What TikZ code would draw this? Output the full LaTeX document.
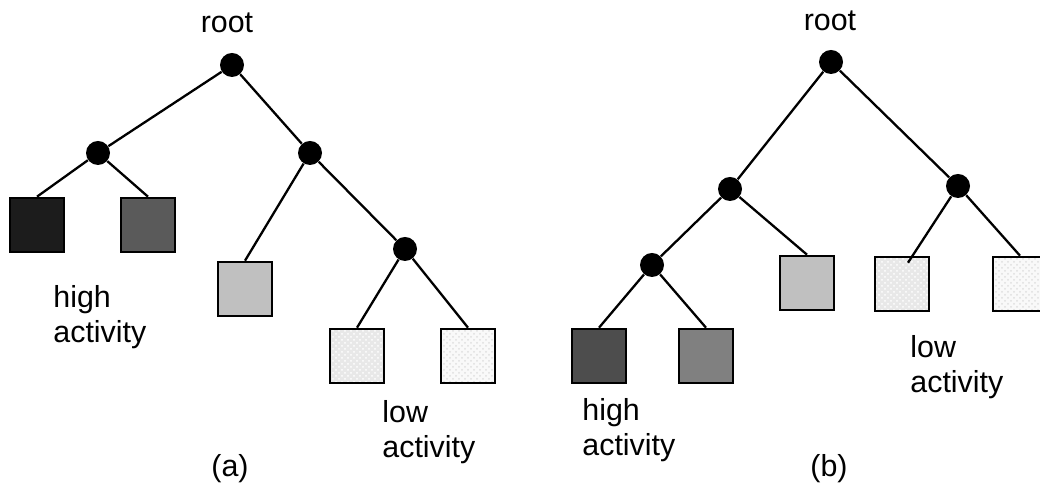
\documentclass[tikz,border=0pt]{standalone}
\usepackage{fontspec}
\setmainfont{Liberation Sans}
\usetikzlibrary{patterns}
\begin{document}
\begin{tikzpicture}[x=0.5pt,y=-0.5pt,
  every node/.style={font=\fontsize{15.2}{17.5}\selectfont},
  dot/.style={circle,fill=black,inner sep=0pt,minimum size=12pt},
  leaf/.style={draw=black,line width=1.3pt,inner sep=0pt,minimum size=27pt},
  leafsoft/.style={leaf,preaction={fill=gray!18},pattern=crosshatch dots,pattern color=white},
  leaffaint/.style={leaf,preaction={fill=gray!5},pattern=crosshatch dots,pattern color=gray!25},
  branch/.style={line width=1.15pt},
  caption/.style={align=left,anchor=base west,inner sep=0pt}]
\useasboundingbox (0,0) rectangle (1040,490);

% ---- tree (a) ----
\node[dot] (a0) at (232,65) {};
\node[dot] (a1) at (98,153) {};
\node[dot] (a2) at (310,153) {};
\node[dot] (a3) at (405,249) {};
\node[leaf,fill={rgb,255:red,28;green,28;blue,28}] (sa1) at (37,225) {};
\node[leaf,fill={rgb,255:red,90;green,90;blue,90}] (sa2) at (148,225) {};
\node[leaf,fill={rgb,255:red,192;green,192;blue,192}] (sa3) at (245,289) {};
\node[leafsoft] (sa4) at (357,356) {};
\node[leaffaint] (sa5) at (468,356) {};
\draw[branch] (a0) -- (a1);
\draw[branch] (a0) -- (a2);
\draw[branch] (a1) -- (sa1.north);
\draw[branch] (a1) -- (sa2.north);
\draw[branch] (a2) -- (sa3.north);
\draw[branch] (a2) -- (a3);
\draw[branch] (a3) -- (sa4.north);
\draw[branch] (a3) -- (sa5.north);
\node[anchor=base,inner sep=0pt] (ra) at (227,33) {root};
% the base anchor of a two-line caption sits on its second line
\node[caption] (ha) at (53,343) {high\\activity};
\node[caption] (la) at (382,458) {low\\activity};
\node[anchor=base,inner sep=0pt] (ca) at (230,477) {(a)};

% ---- tree (b) ----
\node[dot] (b0) at (831,62) {};
\node[dot] (b1) at (730,189) {};
\node[dot] (b2) at (958,186) {};
\node[dot] (b3) at (652,265) {};
\node[leaf,fill={rgb,255:red,77;green,77;blue,77}] (sb1) at (599,356) {};
\node[leaf,fill={rgb,255:red,128;green,128;blue,128}] (sb2) at (706,356) {};
\node[leaf,fill={rgb,255:red,192;green,192;blue,192}] (sb3) at (807,283) {};
\node[leafsoft] (sb4) at (902,284) {};
\node[leaffaint] (sb5) at (1020,284) {};
\draw[branch] (b0) -- (b1);
\draw[branch] (b0) -- (b2);
\draw[branch] (b1) -- (b3);
\draw[branch] (b1) -- (sb3.north);
\draw[branch] (b3) -- (sb1.north);
\draw[branch] (b3) -- (sb2.north);
\draw[branch] (b2) -- ([shift={(6,7)}]sb4.north);
\draw[branch] (b2) -- (sb5.north);
\node[anchor=base,inner sep=0pt] (rb) at (830,31) {root};
\node[caption] (hb) at (582,456) {high\\activity};
\node[caption] (lb) at (910,393) {low\\activity};
\node[anchor=base,inner sep=0pt] (cb) at (829,477) {(b)};
\end{tikzpicture}
\end{document}
